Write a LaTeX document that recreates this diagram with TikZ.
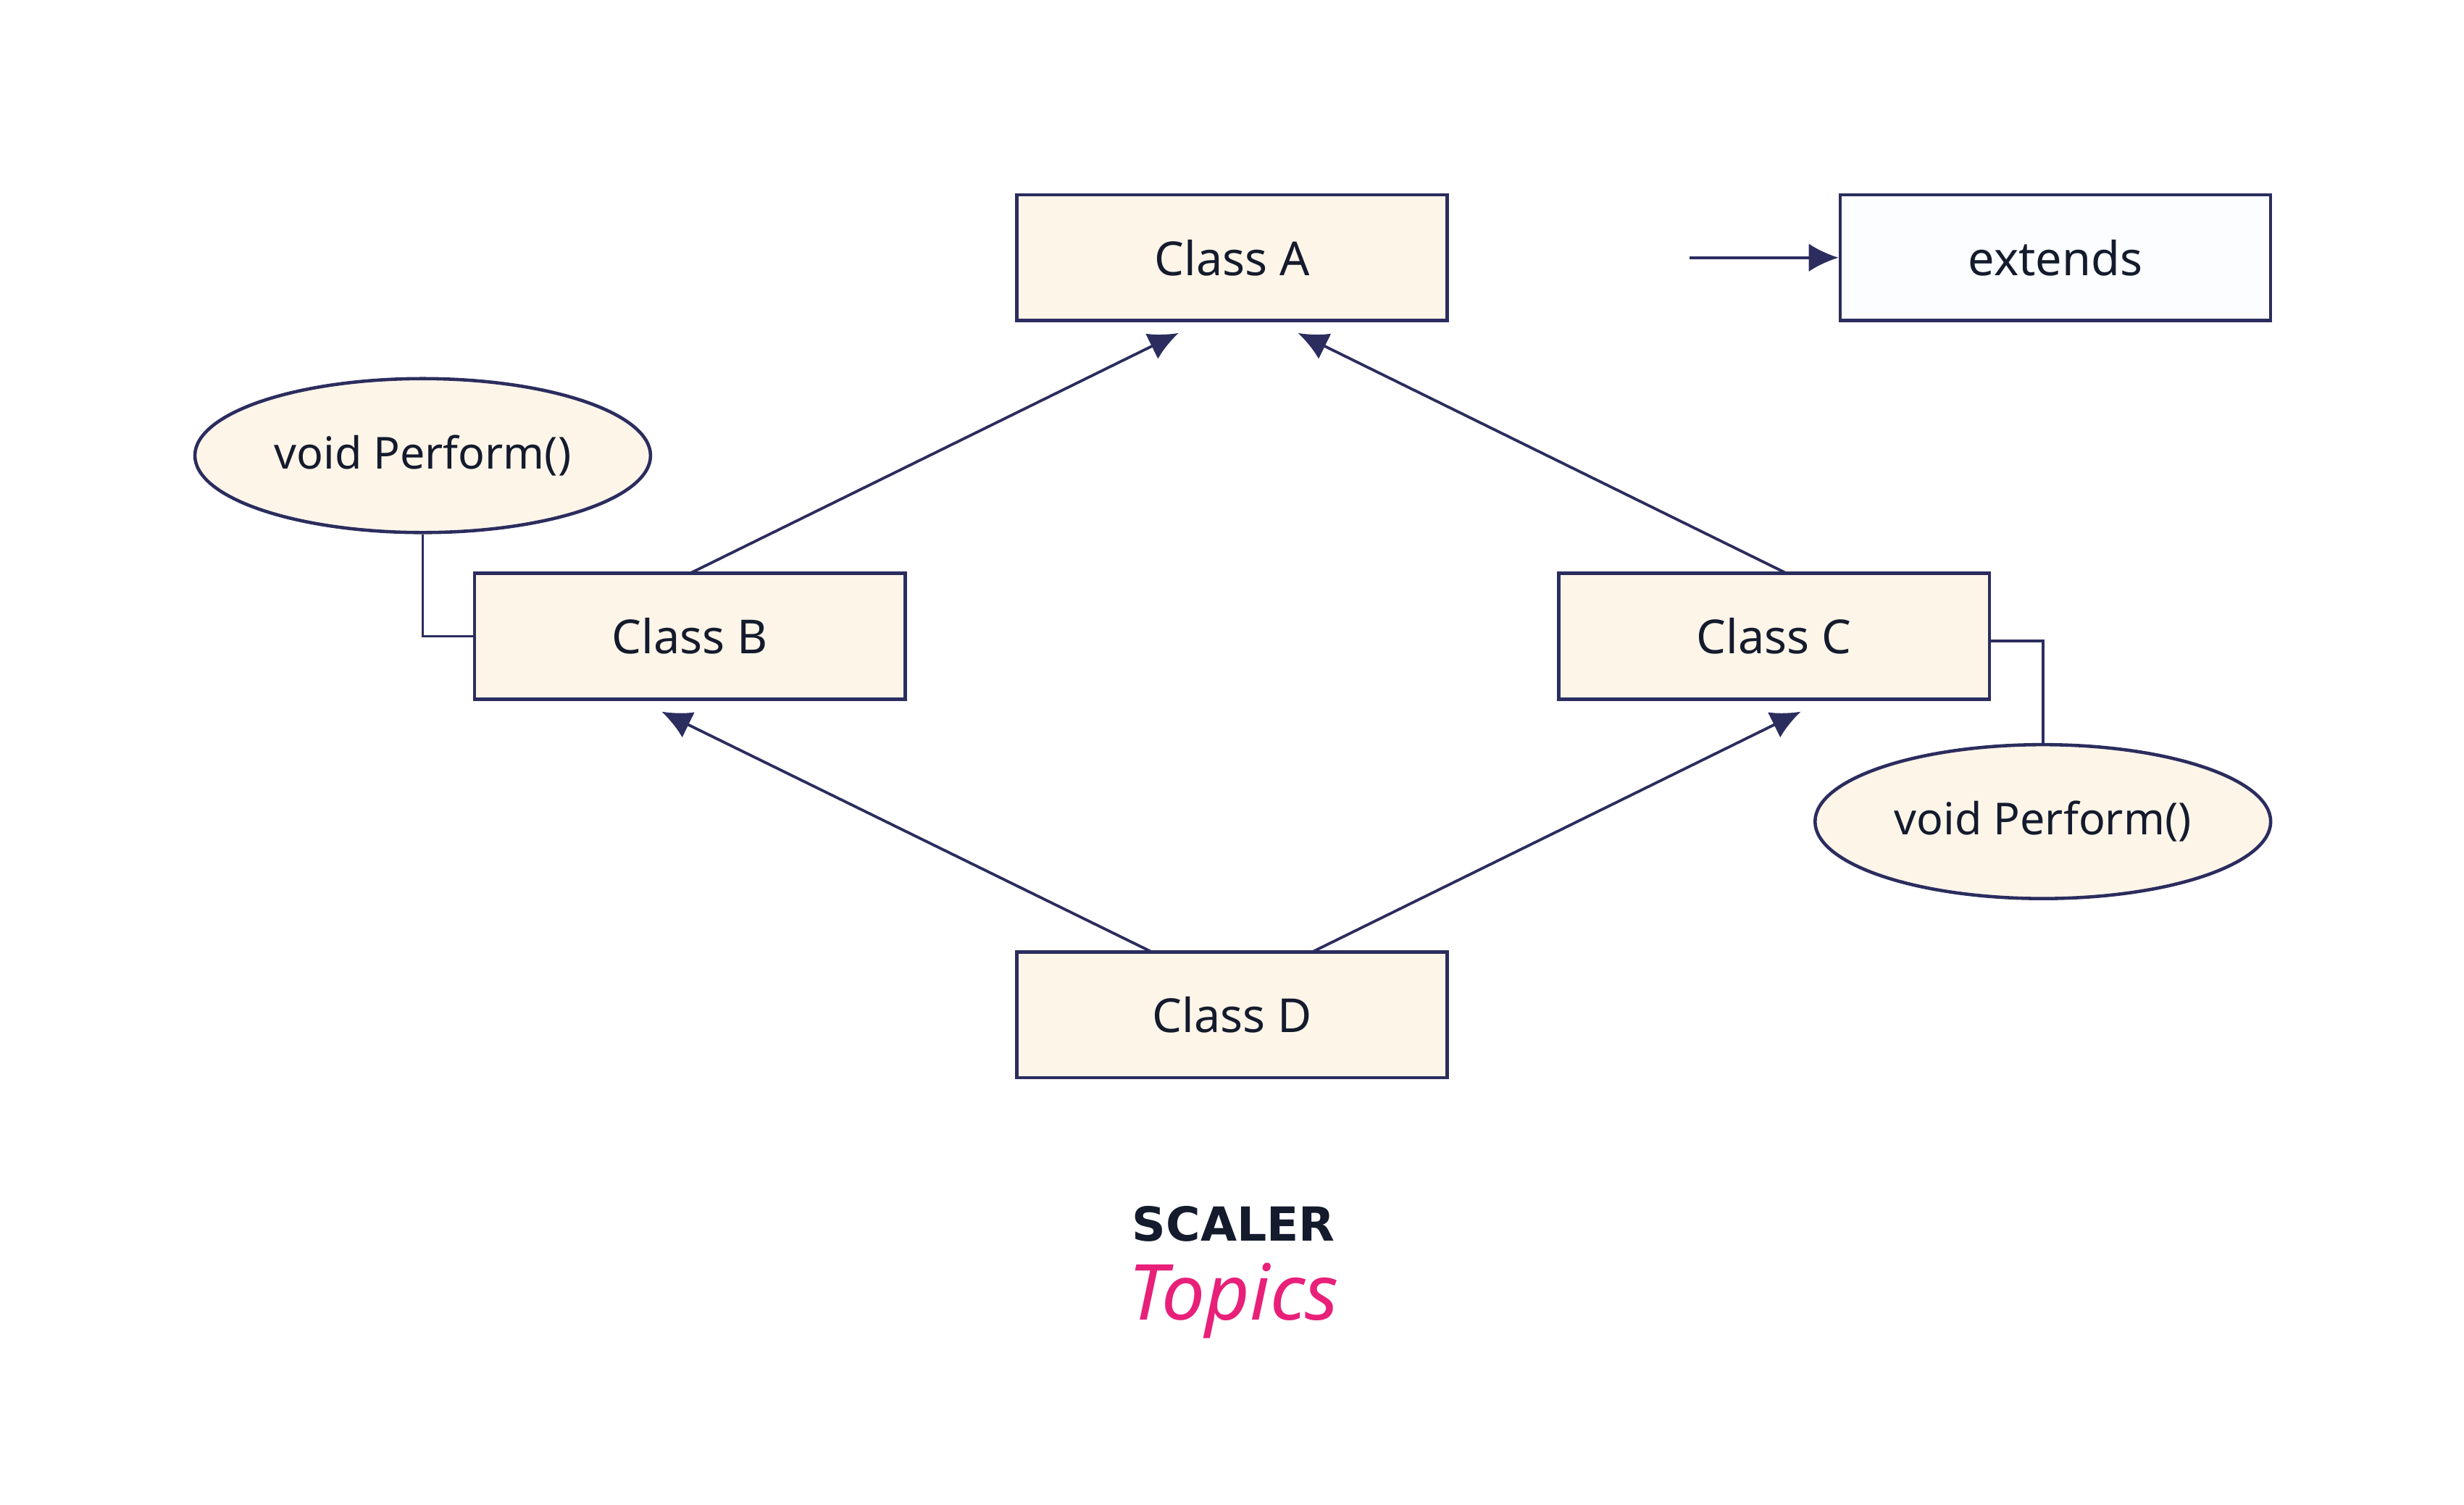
\documentclass[tikz,border=0pt]{standalone}
\usepackage{fontspec}
\setmainfont{Noto Sans}
\newfontfamily\logofont{DejaVu Sans}[BoldFont={DejaVu Sans Bold}]
\usetikzlibrary{shapes.geometric,arrows.meta}
\definecolor{navy}{HTML}{2B2D5E}
\definecolor{boxfill}{HTML}{FEF5E9}
\definecolor{legfill}{HTML}{FBFDFE}
\definecolor{pink}{HTML}{E8207A}
\definecolor{logo}{HTML}{141B2D}
\begin{document}
\begin{tikzpicture}[x=0.02cm,y=-0.02cm,
  cls/.style={draw=navy,line width=1.2pt,fill=boxfill,minimum width=5.48cm,minimum height=1.6cm,inner sep=0pt,font=\fontsize{17}{20}\selectfont,text=logo},
  meth/.style={ellipse,draw=navy,line width=1.2pt,fill=boxfill,minimum width=5.8cm,minimum height=1.96cm,inner sep=0pt,font=\fontsize{16}{19}\selectfont,text=logo},
  ext/.style={draw=navy,line width=1pt,-{Latex[length=0.38cm,width=0.36cm]}},
  lnk/.style={draw=navy,line width=1pt}]
\useasboundingbox (0,0) rectangle (1568,958);
\node[cls] (a) at (784,164) {Class A};
\node[cls,fill=legfill] (leg) at (1308,164) {extends};
\node[cls] (b) at (439,405) {Class B};
\node[cls] (c) at (1129,405) {Class C};
\node[cls] (d) at (784,646) {Class D};
\node[meth] (m1) at (269,290) {void Perform()};
\node[meth] (m2) at (1300,523) {void Perform()};
\coordinate (ta1) at (750,212);
\coordinate (ta2) at (826,212);
\coordinate (tb) at (421,453);
\coordinate (tc) at (1146,453);
\coordinate (ls) at (1075,164);
\draw[ext] (439,365) -- (ta1);
\draw[ext] (1137,365) -- (ta2);
\draw[ext] (733,606) -- (tb);
\draw[ext] (835,606) -- (tc);
\draw[ext] (ls) -- (leg.west);
\draw[lnk] (m1.south) |- (b.west);
\draw[lnk] (1266,408) -| (m2.north);
\node[font=\logofont\bfseries\fontsize{17}{20}\selectfont,text=logo] (s) at (785,779) {SCALER};
\node[font=\fontsize{28}{32}\selectfont\itshape,text=pink] (t) at (785,828) {Topics};
\end{tikzpicture}
\end{document}
